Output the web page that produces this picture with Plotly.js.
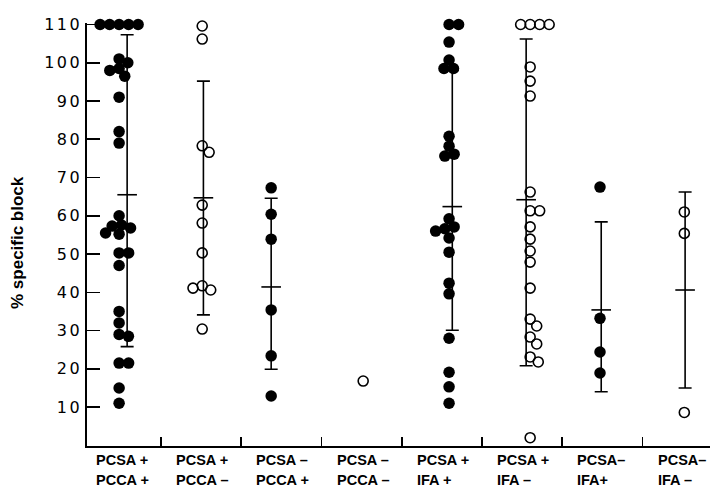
<!DOCTYPE html>
<html><head><meta charset="utf-8">
<script src="https://cdn.plot.ly/plotly-3.0.1.min.js"></script>
<style>
html,body{margin:0;padding:0;background:#fff}
#chart{width:710px;height:487px}
.ytick text{letter-spacing:2.5px}
</style>
</head><body><div id="chart"></div>
<script>
// ---- data ----
const labelLine1 = ["PCSA +", "PCSA +", "PCSA \u2013", "PCSA \u2013", "PCSA +", "PCSA +", "PCSA\u2013", "PCSA\u2013"];
const labelLine2 = ["PCCA +", "PCCA \u2013", "PCCA +", "PCCA \u2013", "IFA +", "IFA \u2013", "IFA+", "IFA \u2013"];
const filledGroup = [true, false, true, false, true, false, true, false];

const pcsaPlusPccaPlus = [110, 110, 110, 110, 110, 101, 100, 98.5, 98, 96.5, 91, 82, 79, 60, 57.6, 57.3, 56.8, 55.5, 55.2, 50.3, 50.3, 47, 35, 32, 29, 28.5, 21.5, 21.5, 15, 11];
const pcsaPlusPccaMinus = [109.6, 106.2, 78.3, 76.6, 62.8, 58.1, 50.3, 41.7, 40.6, 41.1, 30.4];
const pcsaMinusPccaPlus = [67.3, 60.4, 53.9, 35.4, 23.4, 12.9];
const pcsaMinusPccaMinus = [16.8];
const pcsaPlusIfaPlus = [110, 110, 105.4, 100.7, 98.5, 98.5, 80.8, 78.2, 76.1, 75.6, 59.2, 57.1, 56.6, 56, 54.2, 50.5, 42.4, 39.6, 28, 19.1, 15.3, 11];
const pcsaPlusIfaMinus = [110, 110, 110, 110, 98.9, 95.2, 91.3, 66.2, 61.3, 61.3, 57.1, 53.9, 50.8, 47.9, 41.1, 33.0, 31.2, 28.3, 26.5, 23.1, 21.8, 2];
const pcsaMinusIfaPlus = [67.5, 33.2, 24.4, 18.9];
const pcsaMinusIfaMinus = [61, 55.4, 8.6];

const groupMean  = [65.5, 64.7, 41.4, null, 62.4, 64.2, 35.4, 40.6];
const groupUpper = [107.3, 95.2, 64.6, null, 98.0, 106.2, 58.4, 66.2];
const groupLower = [25.8, 34.1, 19.9, null, 30.1, 20.8, 14.0, 15.0];

const yTickVals = [10, 20, 30, 40, 50, 60, 70, 80, 90, 100, 110];
const yTitle = "% specific block";

const groups = [pcsaPlusPccaPlus, pcsaPlusPccaMinus, pcsaMinusPccaPlus, pcsaMinusPccaMinus,
                pcsaPlusIfaPlus, pcsaPlusIfaMinus, pcsaMinusIfaPlus, pcsaMinusIfaMinus];

// ---- layout geometry ----
const W = 710, H = 487;
const M = {l: 87, r: 0, t: 23, b: 41};
const xRange = [-0.42, 7.34], yRange = [-0.17, 110.39];
const pxX = (W - M.l - M.r) / (xRange[1] - xRange[0]);
const pxY = (H - M.t - M.b) / (yRange[1] - yRange[0]);
const barShift = [0.08, 0.03, -0.126, 0.02, 0.13, 0.05, -0.015, 0.03];
const swarmShift = [-0.02, 0.015, -0.126, 0.02, 0.09, 0.10, -0.03, 0.02];
const D = 9.5; // min center distance between dots (px)

function swarm(values) {
  const placed = [];
  return values.map(v => {
    const y = v * pxY;
    const cands = [0];
    placed.forEach(p => {
      const dy = Math.abs(p.y - y);
      if (dy < D) { const dx = Math.sqrt(D * D - dy * dy); cands.push(p.x + dx, p.x - dx); }
    });
    cands.sort((a, b) => (Math.abs(a) - Math.abs(b)) || (b - a));
    for (const cx of cands) {
      if (placed.every(p => (p.x - cx) ** 2 + (p.y - y) ** 2 >= D * D - 1e-6)) {
        placed.push({x: cx, y: y});
        return cx / pxX;
      }
    }
    return 0;
  });
}

const traces = [];
// error bars (mean with upper/lower limits)
const ebX = [], ebY = [], ebUp = [], ebDn = [];
groupMean.forEach((m, i) => {
  if (m === null) return;
  ebX.push(i + barShift[i]); ebY.push(m);
  ebUp.push(groupUpper[i] - m); ebDn.push(m - groupLower[i]);
});
traces.push({
  type: 'scatter', mode: 'markers', x: ebX, y: ebY, cliponaxis: false, hoverinfo: 'skip',
  marker: {symbol: 'line-ew', size: 14, color: 'black', line: {color: 'black', width: 1.6}},
  error_y: {type: 'data', symmetric: false, array: ebUp, arrayminus: ebDn, color: 'black', thickness: 1.6, width: 6.5}
});

groups.forEach((vals, i) => {
  const offs = swarm(vals);
  const filled = filledGroup[i];
  traces.push({
    type: 'scatter', mode: 'markers', cliponaxis: false,
    x: offs.map(o => i + swarmShift[i] + o), y: vals,
    marker: filled
      ? {symbol: 'circle', size: 11.5, color: 'black', line: {width: 0}}
      : {symbol: 'circle-open', size: 10, color: 'black', line: {width: 1.6, color: 'black'}}
  });
});

const annotations = [];
const halfLabel = 27 / pxX;
const labFont = {family: 'Liberation Sans', size: 14.5, color: 'black', weight: 'bold'};
labelLine1.forEach((t, i) => {
  annotations.push({xref: 'x', yref: 'paper', x: i - halfLabel, y: 0, xanchor: 'left', yanchor: 'middle',
    yshift: -14, text: t, showarrow: false, font: labFont});
  annotations.push({xref: 'x', yref: 'paper', x: i - halfLabel, y: 0, xanchor: 'left', yanchor: 'middle',
    yshift: -34, text: labelLine2[i], showarrow: false, font: labFont});
});
annotations.push({xref: 'paper', yref: 'paper', x: (17 - M.l) / (W - M.l - M.r), y: (H - M.b - 243) / (H - M.t - M.b),
  xanchor: 'center', yanchor: 'middle', textangle: -90, text: yTitle, showarrow: false,
  font: {family: 'Liberation Sans', size: 17, color: 'black', weight: 'bold'}});

const layout = {
  width: W, height: H, margin: M, showlegend: false,
  paper_bgcolor: 'white', plot_bgcolor: 'white',
  xaxis: {range: xRange, showgrid: false, zeroline: false, showline: true, linecolor: 'black', linewidth: 1.6,
    ticks: 'inside', ticklen: 9, tickwidth: 1.6, tickcolor: 'black', tickvals: [0.5, 1.5, 2.5, 3.5, 4.5, 5.5, 6.5],
    showticklabels: false, fixedrange: true},
  yaxis: {range: yRange, showgrid: false, zeroline: false, showline: true, linecolor: 'black', linewidth: 1.6,
    ticks: 'inside', ticklen: 13, tickwidth: 1.6, tickcolor: 'black', tickvals: yTickVals,
    ticktext: yTickVals.map(String), tickfont: {family: 'DejaVu Sans', size: 16, color: 'black'}, fixedrange: true},
  annotations: annotations
};

Plotly.newPlot('chart', traces, layout, {displayModeBar: false, staticPlot: true});
</script>
</body></html>
